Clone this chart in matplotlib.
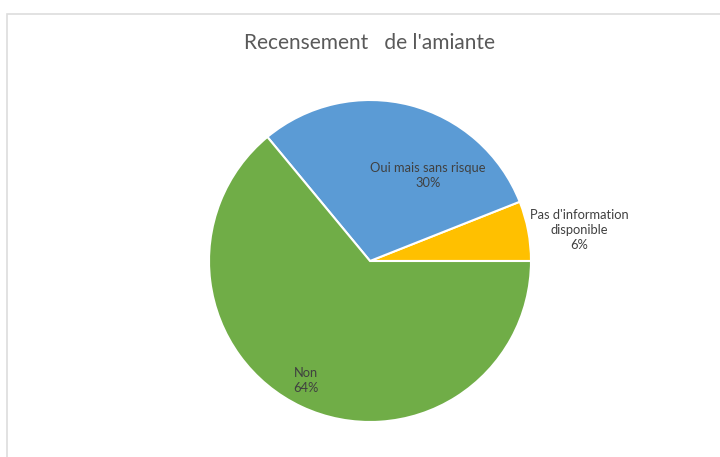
import matplotlib.pyplot as plt
from matplotlib.patches import Rectangle

title = "Recensement   de l'amiante"
labels = ["Pas d'information\ndisponible", "Oui mais sans risque", "Non"]
shares = [6, 30, 64]
colors = ["#FFC000", "#5B9BD5", "#70AD47"]
# label spots in pie units (radius 1), placed like Excel's best fit
label_pos = [(1.30, 0.19), (0.36, 0.53), (-0.40, -0.74)]

plt.rcParams["font.family"] = ["Lato", "DejaVu Sans"]

fig = plt.figure(figsize=(7.2, 4.57), dpi=100)
fig.patches.append(Rectangle((7 / 720, -0.01), 1.0, 1 - 14 / 457 + 0.01,
                             transform=fig.transFigure, fill=False,
                             edgecolor="#DDDDDD", lw=1.2))

ax = fig.add_axes([209 / 720, 35 / 457, 322 / 720, 322 / 457])
ax.pie(shares, colors=colors, startangle=0, counterclock=True,
       wedgeprops=dict(edgecolor="white", linewidth=1.5))
ax.set_xlim(-1, 1)
ax.set_ylim(-1, 1)

for lab, val, (x, y) in zip(labels, shares, label_pos):
    ax.text(x, y, f"{lab}\n{val}%", ha="center", va="center",
            fontsize=9.3, color="#404040", linespacing=1.3)

fig.text(370 / 720, 1 - 43 / 457, title, ha="center", va="center",
         fontsize=15, color="#595959")

fig.savefig("out.png", dpi=100)
